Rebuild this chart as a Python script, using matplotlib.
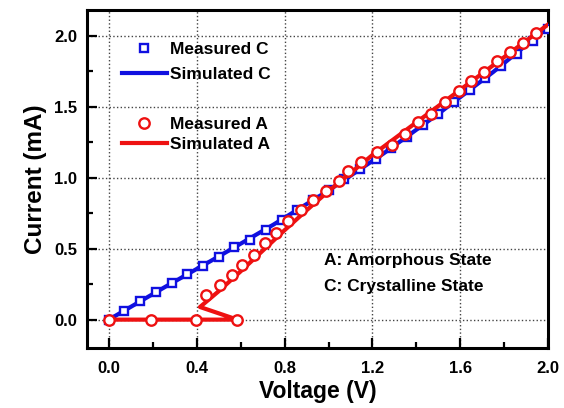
import matplotlib
matplotlib.use('Agg')
import matplotlib.pyplot as plt
from matplotlib.ticker import MultipleLocator
from matplotlib.lines import Line2D

plt.rcParams['font.family'] = ['Liberation Sans', 'DejaVu Sans']
plt.rcParams['font.weight'] = 'bold'

# measured crystalline state (squares)
c_volt = [0.0, 0.071, 0.143, 0.214, 0.286, 0.357, 0.429, 0.5, 0.571, 0.643,
          0.714, 0.786, 0.857, 0.929, 1.0, 1.071, 1.143, 1.214, 1.286, 1.357,
          1.429, 1.5, 1.571, 1.643, 1.714, 1.786, 1.857, 1.929, 2.0]
c_curr = [0.0, 0.063, 0.129, 0.195, 0.258, 0.324, 0.38, 0.44, 0.509, 0.563,
          0.635, 0.70, 0.77, 0.84, 0.91, 0.99, 1.06, 1.13, 1.21, 1.29,
          1.37, 1.45, 1.53, 1.62, 1.70, 1.79, 1.87, 1.96, 2.05]

# simulated crystalline state
c_sim_volt = [0.0, 0.25, 0.5, 0.75, 1.0, 1.25, 1.5, 1.75, 2.0]
c_sim_curr = [0.0, 0.225, 0.445, 0.67, 0.91, 1.17, 1.45, 1.745, 2.06]

# measured amorphous state (circles)
a_volt = [0.0, 0.19, 0.395, 0.585, 0.444, 0.506, 0.562, 0.607, 0.66, 0.709,
          0.759, 0.817, 0.873, 0.93, 0.99, 1.047, 1.088, 1.15, 1.221, 1.289,
          1.35, 1.406, 1.467, 1.529, 1.592, 1.65, 1.71, 1.767, 1.827, 1.883,
          1.944]
a_curr = [0.0, 0.0, 0.0, 0.0, 0.176, 0.246, 0.317, 0.387, 0.458, 0.54,
          0.61, 0.692, 0.77, 0.845, 0.904, 0.974, 1.049, 1.11, 1.178, 1.232,
          1.31, 1.392, 1.45, 1.533, 1.608, 1.683, 1.742, 1.82, 1.885, 1.948,
          2.019]

# simulated amorphous state (with snapback)
a_sim_volt = [0.0, 0.585, 0.415, 0.5, 0.6, 0.7, 0.8, 0.9, 1.0, 1.2, 1.4,
              1.6, 1.8, 2.0]
a_sim_curr = [0.0, 0.0, 0.089, 0.2, 0.34, 0.485, 0.63, 0.77, 0.905, 1.16,
              1.39, 1.62, 1.85, 2.08]

blue = '#1010e0'
red = '#ee1111'

fig = plt.figure(figsize=(5.64, 4.08), dpi=100)
ax = fig.add_axes([0.154, 0.147, 0.818, 0.828])

ax.plot(c_sim_volt, c_sim_curr, color=blue, lw=3, zorder=2)
ax.plot(c_volt, c_curr, ls='none', marker='s', ms=6, mfc='white',
        mec=blue, mew=1.7, zorder=3)
ax.plot(a_sim_volt, a_sim_curr, color=red, lw=3, zorder=4)
ax.plot(a_volt, a_curr, ls='none', marker='o', ms=7.5, mfc='white',
        mec=red, mew=1.7, zorder=5)

ax.set_xlim(-0.1, 2.0)
ax.set_ylim(-0.2, 2.18)
ax.xaxis.set_major_locator(MultipleLocator(0.4))
ax.xaxis.set_minor_locator(MultipleLocator(0.2))
ax.yaxis.set_major_locator(MultipleLocator(0.5))
ax.yaxis.set_minor_locator(MultipleLocator(0.25))
ax.tick_params(which='major', direction='in', length=7, width=1.6,
               labelsize=12, pad=7)
ax.tick_params(which='minor', direction='in', length=4, width=1.6)
ax.tick_params(axis='x', which='major', pad=9)
for lab in ax.get_xticklabels() + ax.get_yticklabels():
    lab.set_fontweight('bold')
for sp in ax.spines.values():
    sp.set_linewidth(2.2)
ax.grid(True, which='major', ls=':', color='#444444', lw=1.0)
ax.set_axisbelow(True)

ax.set_xlabel('Voltage (V)', fontsize=16.5, fontweight='bold', labelpad=3)
ax.set_ylabel('Current (mA)', fontsize=17.5, fontweight='bold', labelpad=5)

h1 = [Line2D([], [], ls='none', marker='s', ms=6, mfc='white', mec=blue, mew=1.7),
      Line2D([], [], color=blue, lw=3)]
leg1 = ax.legend(h1, ['Measured C', 'Simulated C'], loc='upper left',
                 bbox_to_anchor=(0.076, 0.905), frameon=False, fontsize=12.5,
                 handlelength=2.6, handletextpad=0.15, labelspacing=0.55,
                 borderpad=0, borderaxespad=0)
ax.add_artist(leg1)
h2 = [Line2D([], [], ls='none', marker='o', ms=7.5, mfc='white', mec=red, mew=1.7),
      Line2D([], [], color=red, lw=3)]
ax.legend(h2, ['Measured A', 'Simulated A'], loc='upper left',
          bbox_to_anchor=(0.076, 0.685), frameon=False, fontsize=12.5,
          handlelength=2.6, handletextpad=0.15, labelspacing=0.3,
          borderpad=0, borderaxespad=0)

ax.text(0.98, 0.415, 'A: Amorphous State', fontsize=12.5, fontweight='bold',
        va='center', ha='left')
ax.text(0.98, 0.232, 'C: Crystalline State', fontsize=12.5, fontweight='bold',
        va='center', ha='left')

fig.savefig('out.png', dpi=100)
